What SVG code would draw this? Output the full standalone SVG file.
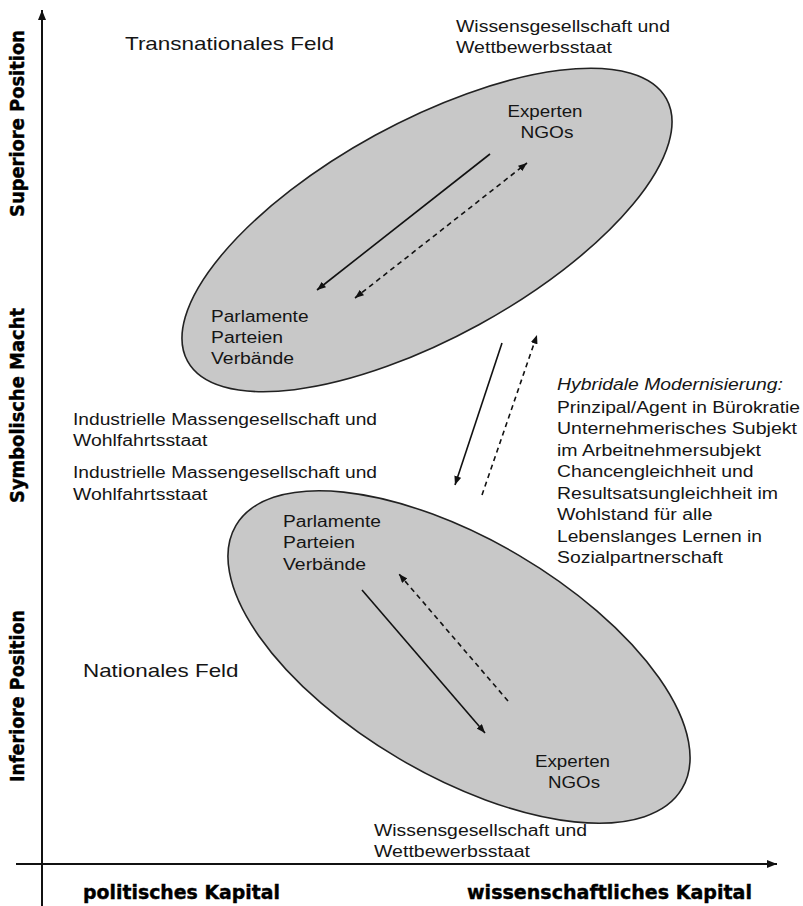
<svg xmlns="http://www.w3.org/2000/svg" width="803" height="906" viewBox="0 0 803 906">
<defs>
<style>
text{font-family:"Liberation Sans",Arial,sans-serif;fill:#151515}
.t{font-size:16px}
.f{font-size:18.5px}
.c{text-anchor:middle}
.ax{font-family:"DejaVu Sans","Liberation Sans",Arial,sans-serif;font-size:19px;font-weight:bold;fill:#000;stroke:#000;stroke-width:0.4}
.it{font-style:italic}
.field{fill:#c8c8c8;stroke:#222;stroke-width:1.6}
.axis{stroke:#111;stroke-width:2;fill:none}
.con{stroke:#111;stroke-width:1.6;fill:none}
.dash{stroke-dasharray:5 4}
</style>
<marker id="ah" viewBox="0 0 10 8" refX="10" refY="4" markerWidth="9" markerHeight="7" markerUnits="userSpaceOnUse" orient="auto-start-reverse">
<path d="M0,0 L10,4 L0,8 z" fill="#111"/>
</marker>
<marker id="axh" viewBox="0 0 10 8" refX="10" refY="4" markerWidth="10" markerHeight="8" markerUnits="userSpaceOnUse" orient="auto">
<path d="M0,0 L10,4 L0,8 z" fill="#111"/>
</marker>
</defs>
<rect width="803" height="906" fill="#fff"/>

<g id="axes">
<line class="axis" x1="42" y1="906" x2="42" y2="10" marker-end="url(#axh)"/>
<line class="axis" x1="16" y1="864" x2="777" y2="864" marker-end="url(#axh)"/>
<text class="ax" transform="translate(24,217) rotate(-90)" textLength="187" lengthAdjust="spacingAndGlyphs">Superiore Position</text>
<text class="ax" transform="translate(24,503) rotate(-90)" textLength="195" lengthAdjust="spacingAndGlyphs">Symbolische Macht</text>
<text class="ax" transform="translate(24,782) rotate(-90)" textLength="172" lengthAdjust="spacingAndGlyphs">Inferiore Position</text>
<text class="ax" x="83" y="899" textLength="197" lengthAdjust="spacingAndGlyphs">politisches Kapital</text>
<text class="ax" x="467" y="899" textLength="285" lengthAdjust="spacingAndGlyphs">wissenschaftliches Kapital</text>
</g>

<g id="transnational-field">
<ellipse class="field" cx="427" cy="230" rx="273" ry="108" transform="rotate(-28.7 427 230)"/>
<text class="f" x="125" y="50" textLength="209" lengthAdjust="spacingAndGlyphs">Transnationales Feld</text>
</g>

<g id="top-experten">
<text class="t c" x="545" y="117" textLength="75" lengthAdjust="spacingAndGlyphs">Experten</text>
<text class="t c" x="547" y="138" textLength="53" lengthAdjust="spacingAndGlyphs">NGOs</text>
</g>

<g id="top-parlamente">
<text class="t" x="211" y="322" textLength="97.5" lengthAdjust="spacingAndGlyphs">Parlamente</text>
<text class="t" x="211" y="343" textLength="72" lengthAdjust="spacingAndGlyphs">Parteien</text>
<text class="t" x="211" y="364" textLength="83" lengthAdjust="spacingAndGlyphs">Verbände</text>
</g>

<g id="top-wissen">
<text class="t" x="456" y="32" textLength="214" lengthAdjust="spacingAndGlyphs">Wissensgesellschaft und</text>
<text class="t" x="456" y="53" textLength="156" lengthAdjust="spacingAndGlyphs">Wettbewerbsstaat</text>
</g>

<g id="industrie-1">
<text class="t" x="73" y="425" textLength="304" lengthAdjust="spacingAndGlyphs">Industrielle Massengesellschaft und</text>
<text class="t" x="73" y="446" textLength="134.5" lengthAdjust="spacingAndGlyphs">Wohlfahrtsstaat</text>
</g>

<g id="industrie-2">
<text class="t" x="73" y="478" textLength="304" lengthAdjust="spacingAndGlyphs">Industrielle Massengesellschaft und</text>
<text class="t" x="73" y="500" textLength="134.5" lengthAdjust="spacingAndGlyphs">Wohlfahrtsstaat</text>
</g>

<g id="national-field">
<ellipse class="field" cx="459" cy="657" rx="259" ry="118" transform="rotate(30.5 459 657)"/>
<text class="f" x="83" y="677" textLength="155.5" lengthAdjust="spacingAndGlyphs">Nationales Feld</text>
</g>

<g id="bottom-parlamente">
<text class="t" x="283" y="527" textLength="98" lengthAdjust="spacingAndGlyphs">Parlamente</text>
<text class="t" x="283" y="548" textLength="72" lengthAdjust="spacingAndGlyphs">Parteien</text>
<text class="t" x="283" y="570" textLength="83" lengthAdjust="spacingAndGlyphs">Verbände</text>
</g>

<g id="bottom-experten">
<text class="t c" x="572.5" y="767" textLength="75" lengthAdjust="spacingAndGlyphs">Experten</text>
<text class="t c" x="574" y="788" textLength="52" lengthAdjust="spacingAndGlyphs">NGOs</text>
</g>

<g id="bottom-wissen">
<text class="t" x="374" y="836" textLength="213" lengthAdjust="spacingAndGlyphs">Wissensgesellschaft und</text>
<text class="t" x="374" y="857" textLength="156" lengthAdjust="spacingAndGlyphs">Wettbewerbsstaat</text>
</g>

<g id="hybrid">
<text class="t it" x="557" y="390" textLength="226" lengthAdjust="spacingAndGlyphs">Hybridale Modernisierung:</text>
<text class="t" x="557" y="412.5" textLength="243" lengthAdjust="spacingAndGlyphs">Prinzipal/Agent in Bürokratie</text>
<text class="t" x="557" y="434" textLength="240" lengthAdjust="spacingAndGlyphs">Unternehmerisches Subjekt</text>
<text class="t" x="557" y="455.5" textLength="204" lengthAdjust="spacingAndGlyphs">im Arbeitnehmersubjekt</text>
<text class="t" x="557" y="477" textLength="196.5" lengthAdjust="spacingAndGlyphs">Chancengleichheit und</text>
<text class="t" x="557" y="498.5" textLength="221" lengthAdjust="spacingAndGlyphs">Resultsatsungleichheit im</text>
<text class="t" x="557" y="520" textLength="155.5" lengthAdjust="spacingAndGlyphs">Wohlstand für alle</text>
<text class="t" x="557" y="541.5" textLength="205" lengthAdjust="spacingAndGlyphs">Lebenslanges Lernen in</text>
<text class="t" x="557" y="563" textLength="166" lengthAdjust="spacingAndGlyphs">Sozialpartnerschaft</text>
</g>

<g id="connectors">
<line class="con" x1="490" y1="154" x2="317" y2="290" marker-end="url(#ah)"/>
<line class="con dash" x1="355" y1="298" x2="527" y2="163" marker-start="url(#ah)" marker-end="url(#ah)"/>
<line class="con" x1="502" y1="343" x2="455" y2="485" marker-end="url(#ah)"/>
<line class="con dash" x1="482" y1="495" x2="537" y2="335" marker-end="url(#ah)"/>
<line class="con" x1="362" y1="590" x2="485" y2="733" marker-end="url(#ah)"/>
<line class="con dash" x1="508" y1="701" x2="399" y2="574" marker-end="url(#ah)"/>
</g>
</svg>
